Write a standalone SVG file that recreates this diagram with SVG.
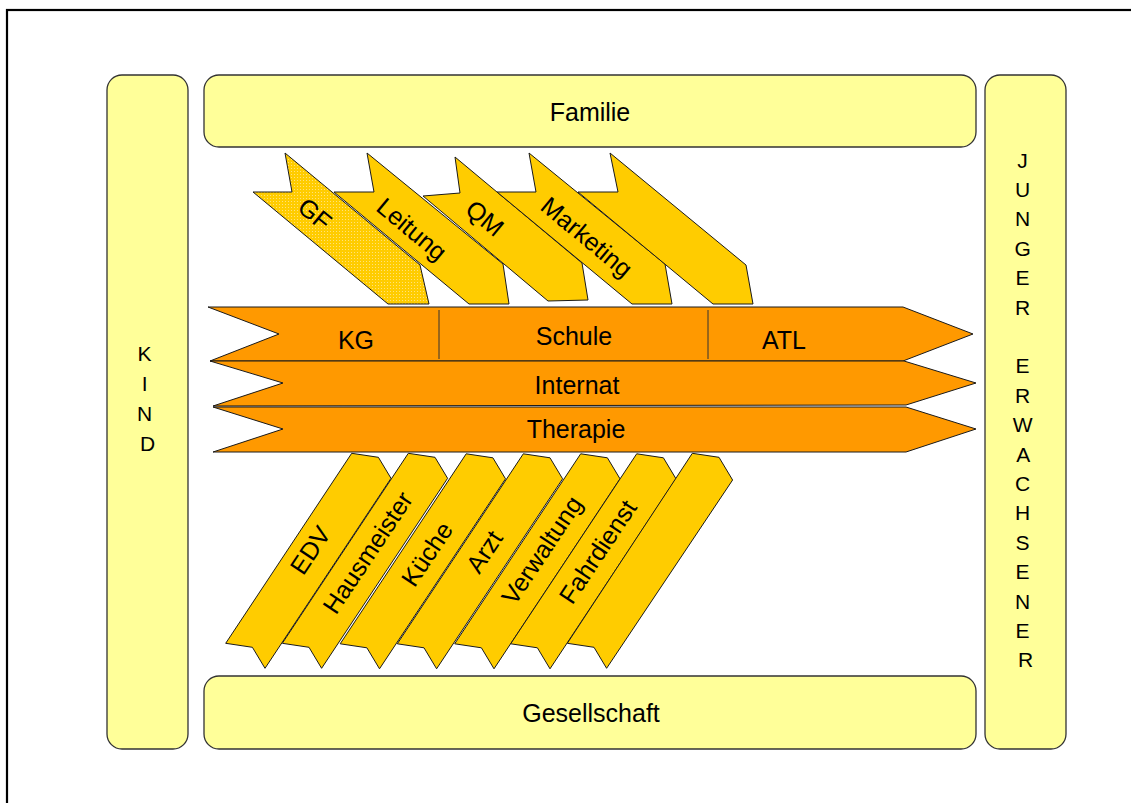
<svg xmlns="http://www.w3.org/2000/svg" width="1131" height="803" viewBox="0 0 1131 803">
  <defs>
    <!-- fine dotted texture used on the GF chevron -->
    <pattern id="dots" width="3" height="3" patternUnits="userSpaceOnUse">
      <rect width="3" height="3" fill="#FFCC00"/>
      <rect width="1" height="1" fill="#FFE27A"/>
    </pattern>
    <style>
      .box { fill: #FFFF99; stroke: #333333; stroke-width: 1.3; }
      .band { fill: #FF9900; stroke: #1a1a1a; stroke-width: 1; }
      .chev { fill: #FFCC00; stroke: #1a1a1a; stroke-width: 1; }
      .gf { fill: url(#dots); stroke: #1a1a1a; stroke-width: 1; }
      .sep { stroke: #333333; stroke-width: 1; }
      text { font-family: "Liberation Sans", Arial, sans-serif; fill: #000000; }
      .lbl { font-size: 25px; text-anchor: middle; }
      .mid { dominant-baseline: central; }
      .vert { font-size: 21px; text-anchor: middle; }
    </style>
  </defs>

  <rect width="1131" height="803" fill="#ffffff"/>
  <!-- page frame -->
  <rect x="7" y="10" width="1140" height="810" fill="none" stroke="#000000" stroke-width="2.2"/>

  <!-- outer boxes -->
  <g id="kind">
    <rect class="box" x="107" y="75" width="81" height="674" rx="15"/>
    <text class="vert" x="147.5">
      <tspan x="147.5" y="361">K</tspan>
      <tspan x="147.5" y="391">I</tspan>
      <tspan x="147.5" y="421">N</tspan>
      <tspan x="147.5" y="451">D</tspan>
    </text>
  </g>

  <g id="familie">
    <rect class="box" x="204" y="75" width="772" height="72" rx="15"/>
    <text class="lbl" x="590" y="121">Familie</text>
  </g>

  <g id="gesellschaft">
    <rect class="box" x="204" y="676" width="772" height="73" rx="15"/>
    <text class="lbl" x="591" y="722">Gesellschaft</text>
  </g>

  <g id="junger-erwachsener">
    <rect class="box" x="985" y="75" width="81" height="674" rx="15"/>
    <text class="vert">
      <tspan x="1025.5" y="167.5">J</tspan>
      <tspan x="1025.5" y="196.9">U</tspan>
      <tspan x="1025.5" y="226.3">N</tspan>
      <tspan x="1025.5" y="255.7">G</tspan>
      <tspan x="1025.5" y="285.1">E</tspan>
      <tspan x="1025.5" y="314.5">R</tspan>
      <tspan x="1025.5" y="373.3">E</tspan>
      <tspan x="1025.5" y="402.7">R</tspan>
      <tspan x="1025.5" y="432.1">W</tspan>
      <tspan x="1025.5" y="461.5">A</tspan>
      <tspan x="1025.5" y="490.9">C</tspan>
      <tspan x="1025.5" y="520.3">H</tspan>
      <tspan x="1025.5" y="549.7">S</tspan>
      <tspan x="1025.5" y="579.1">E</tspan>
      <tspan x="1025.5" y="608.5">N</tspan>
      <tspan x="1025.5" y="637.9">E</tspan>
      <tspan x="1025.5" y="667.3">R</tspan>
    </text>
  </g>

  <!-- management chevrons above the main bands -->
  <g id="gf">
    <polygon class="gf" points="285,153 292,192 253,192 388,304 429,304 420,265"/>
    <text class="lbl mid" transform="translate(315,214) rotate(39.7)">GF</text>
  </g>
  <g id="leitung">
    <polygon class="chev" points="367,153 374,192 334,192 469,304 509,304 503,264"/>
    <text class="lbl mid" transform="translate(412,229) rotate(39.7)">Leitung</text>
  </g>
  <g id="qm">
    <polygon class="chev" points="455,157 460,193 423,196 548,301 588,300 582,263"/>
    <text class="lbl mid" transform="translate(485,218) rotate(39.7)">QM</text>
  </g>
  <g id="marketing">
    <polygon class="chev" points="529,153 536,192 497,192 632,304 672,304 665,264"/>
    <text class="lbl mid" transform="translate(587,237) rotate(39.7)">Marketing</text>
  </g>
  <g id="chevron-top-5">
    <polygon class="chev" points="610,153 618,192 578,192 713,304 753,304 746,265"/>
  </g>

  <!-- main bands -->
  <g id="band-kg-schule-atl">
    <polygon class="band" points="208,307 903,307 973,334 903,361 210,361 279,334"/>
    <line class="sep" x1="439" y1="310" x2="439" y2="359"/>
    <line class="sep" x1="708" y1="310" x2="708" y2="359"/>
    <text class="lbl" x="356" y="349">KG</text>
    <text class="lbl" x="574" y="345">Schule</text>
    <text class="lbl" x="784" y="349">ATL</text>
  </g>
  <g id="band-internat">
    <polygon class="band" points="210,361 904,361 976,383 906,405 213,406 283,383"/>
    <text class="lbl" x="577" y="394">Internat</text>
  </g>
  <g id="band-therapie">
    <polygon class="band" points="213,407 906,407 976,429 906,452 213,452 283,429"/>
    <text class="lbl" x="576" y="438">Therapie</text>
  </g>

  <!-- service chevrons below the main bands -->
  <g id="edv">
    <polygon class="chev" points="351.7,453.3 378.4,457.3 391,478.3 265,668.3 252.4,647.3 225.7,643.3"/>
    <text class="lbl mid" transform="translate(310,550) rotate(-56.3)">EDV</text>
  </g>
  <g id="hausmeister">
    <polygon class="chev" points="408.3,453.3 435,457.3 447.6,478.3 321.6,668.3 309,647.3 282.3,643.3"/>
    <text class="lbl mid" transform="translate(367.5,552.5) rotate(-56.3)">Hausmeister</text>
  </g>
  <g id="kueche">
    <polygon class="chev" points="466.2,453.8 492.9,457.8 505.5,478.8 379.5,668.8 366.9,647.8 340.2,643.8"/>
    <text class="lbl mid" transform="translate(426.7,554) rotate(-56.3)">Küche</text>
  </g>
  <g id="arzt">
    <polygon class="chev" points="523.3,453.8 550,457.8 562.6,478.8 436.6,668.8 424,647.8 397.3,643.8"/>
    <text class="lbl mid" transform="translate(484,551.5) rotate(-56.3)">Arzt</text>
  </g>
  <g id="verwaltung">
    <polygon class="chev" points="580.7,453.8 607.4,457.8 620,478.8 494,668.8 481.4,647.8 454.7,643.8"/>
    <text class="lbl mid" transform="translate(541.7,550) rotate(-56.3)">Verwaltung</text>
  </g>
  <g id="fahrdienst">
    <polygon class="chev" points="636.7,453.8 663.4,457.8 676,478.8 550,668.8 537.4,647.8 510.7,643.8"/>
    <text class="lbl mid" transform="translate(597.5,551.5) rotate(-56.3)">Fahrdienst</text>
  </g>
  <g id="chevron-bottom-7">
    <polygon class="chev" points="692.3,453.3 719,457.3 732.6,480 606.6,668.3 594,647.3 567.3,643.3"/>
  </g>
</svg>
